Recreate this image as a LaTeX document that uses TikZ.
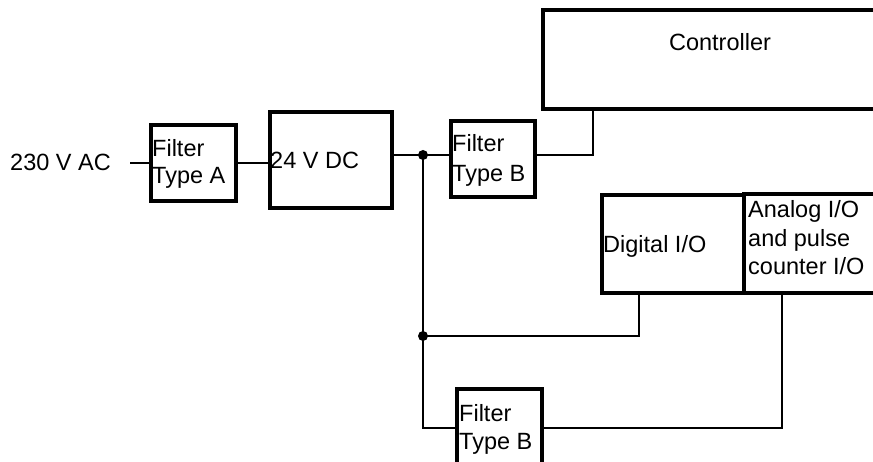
\documentclass[tikz,border=0pt]{standalone}
\usepackage{fontspec}
\setmainfont{Liberation Sans}
\begin{document}
\begin{tikzpicture}[x=1pt,y=-1pt,
  blk/.style={draw,line width=3.3pt,rectangle,inner sep=0pt},
  wire/.style={line width=2.3pt},
  lbl/.style={anchor=base west,inner sep=0pt,font=\fontsize{23.5}{28}\selectfont},
  dot/.style={circle,fill,inner sep=0pt,minimum size=10pt}]
\useasboundingbox (0,0) rectangle (873,462);
% boxes
\node[blk,minimum width=85pt,minimum height=76pt] (fA) at (193.5,163) {};
\node[blk,minimum width=122pt,minimum height=96pt] (dc) at (331,160) {};
\node[blk,minimum width=84pt,minimum height=76pt] (fB1) at (493,159) {};
\node[blk,minimum width=345pt,minimum height=99pt] (ctrl) at (715.5,59.5) {};
\node[blk,minimum width=142pt,minimum height=98pt] (dig) at (673,244) {};
\node[blk,minimum width=142pt,minimum height=99pt] (ana) at (815,243.5) {};
\node[blk,minimum width=85pt,minimum height=90pt] (fB2) at (499.5,434) {};
% labels
\node[lbl] (tac) at (10,171) {230 V AC};
\node[lbl] (tfA1) at (152,157) {Filter};
\node[lbl] (tfA2) at (152,184) {Type A};
\node[lbl] (tdc) at (270,169) {24 V DC};
\node[lbl] (tfB1a) at (452,152) {Filter};
\node[lbl] (tfB1b) at (452,182) {Type B};
\node[lbl,anchor=base] (tctrl) at (720,51) {Controller};
\node[lbl] (tdig) at (603,253) {Digital I/O};
\node[lbl] (tana1) at (748,218) {Analog I/O};
\node[lbl] (tana2) at (748,247) {and pulse};
\node[lbl] (tana3) at (748,275) {counter I/O};
\node[lbl] (tfB2a) at (459,421) {Filter};
\node[lbl] (tfB2b) at (459,449) {Type B};
% junctions
\coordinate (ac) at (130,163);
\node[dot] (j1) at (423,155) {};
\node[dot] (j2) at (423,336) {};
\coordinate (c1) at (593,155);
\coordinate (d1) at (639,336);
\coordinate (a1) at (782,428);
\coordinate (j3) at (423,428);
% wires
\draw[wire] (ac) -- (ac -| fA.west);
\draw[wire] (fA.east |- ac) -- (ac -| dc.west);
\draw[wire] (dc.east |- j1) -- (j1.center) -- (fB1.west |- j1);
\draw[wire] (fB1.east |- c1) -- (c1) -- (c1 |- ctrl.south);
\draw[wire] (j1.center) -- (j2.center) -- (j3) -- (fB2.west |- j3);
\draw[wire] (d1 |- dig.south) -- (d1) -- (j2.center);
\draw[wire] (a1 |- ana.south) -- (a1) -- (fB2.east |- a1);
\end{tikzpicture}
\end{document}
